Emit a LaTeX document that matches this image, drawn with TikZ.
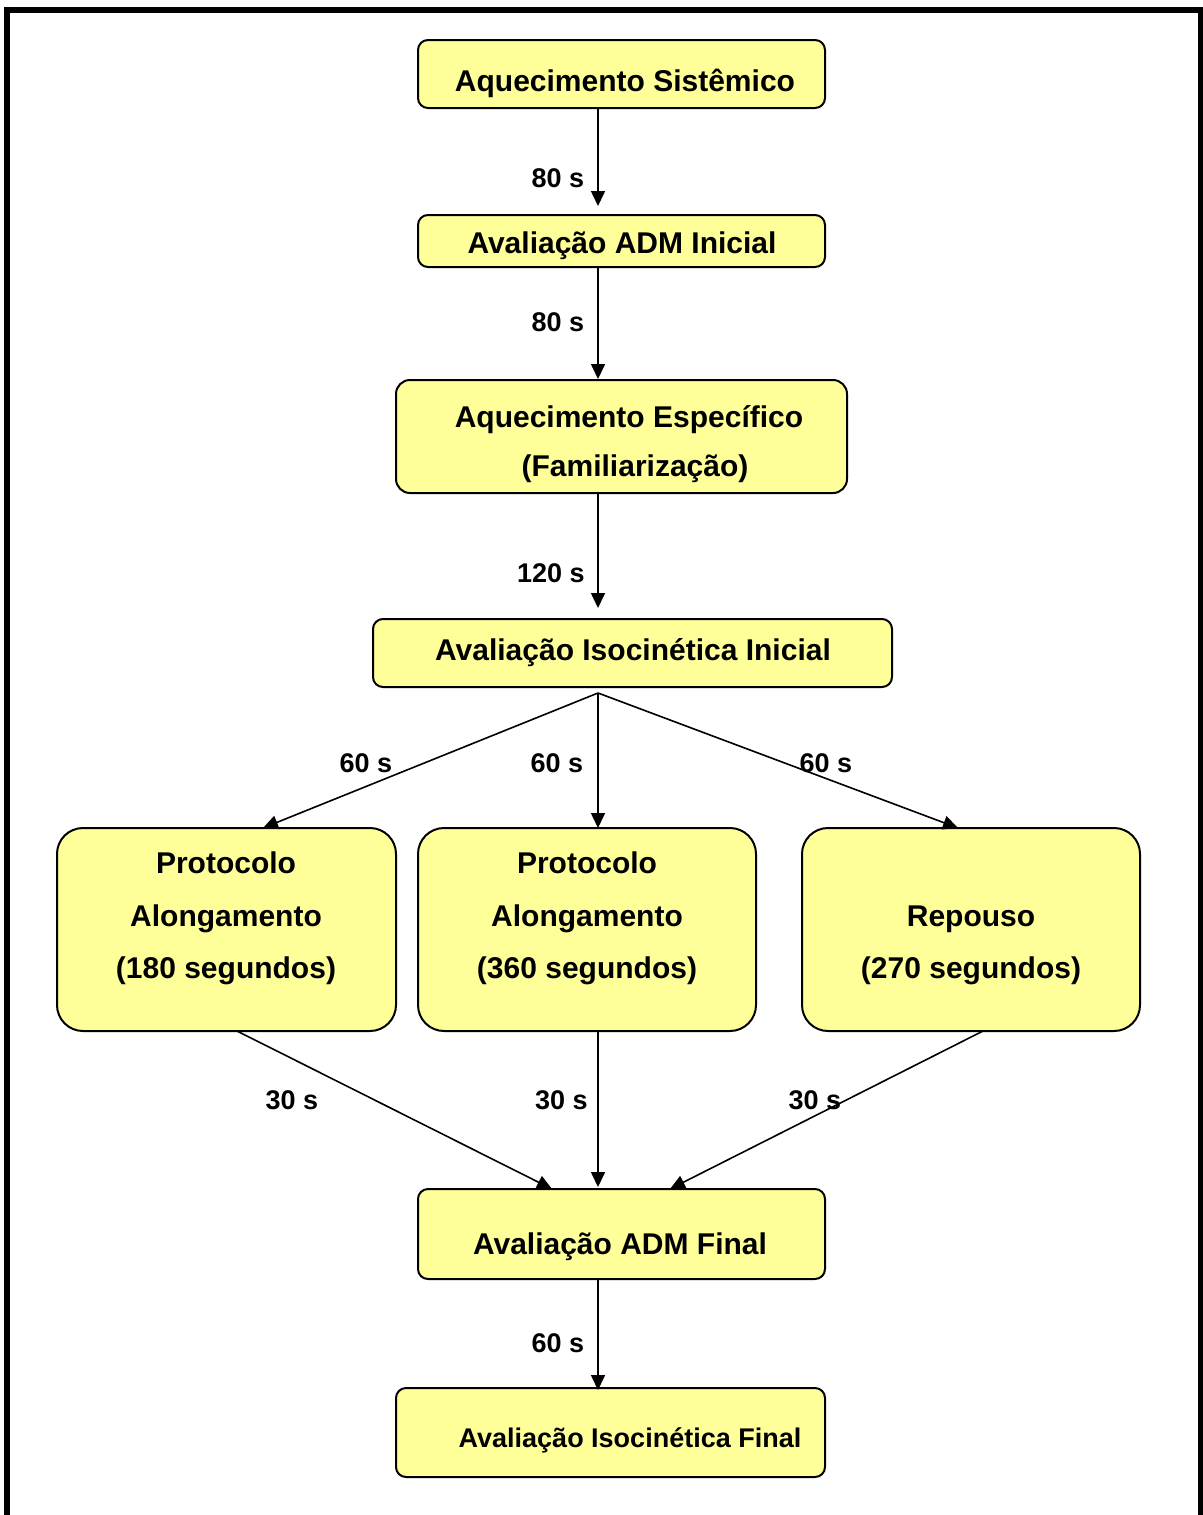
\documentclass[tikz,border=0pt]{standalone}
\usepackage{fontspec}
\setmainfont{Liberation Sans}
\usetikzlibrary{arrows.meta,positioning}
\definecolor{boxfill}{HTML}{FFFF99}
\tikzset{
  box/.style={draw=black, line width=1pt, fill=boxfill, rounded corners=5pt, inner sep=0pt, outer sep=0pt},
  bigbox/.style={box, rounded corners=13pt},
  txt/.style={anchor=base, inner sep=0pt, font=\fontsize{15pt}{18pt}\selectfont\bfseries},
  smalltxt/.style={anchor=base, inner sep=0pt, font=\fontsize{13.5pt}{16pt}\selectfont\bfseries},
  lbl/.style={anchor=base, inner sep=0pt, font=\fontsize{13.5pt}{16pt}\selectfont\bfseries},
  arr/.style={line width=0.8pt, -{Triangle[width=7pt,length=7.5pt]}}
}
\begin{document}
\begin{tikzpicture}[x=0.5pt,y=-0.5pt]
\useasboundingbox (0,0) rectangle (1203,1515);
% outer frame
\draw[line width=3pt, line join=miter] (7,1520) -- (7,10) -- (1200.5,10) -- (1200.5,1520);

% boxes
\node[box, minimum width=203.5pt, minimum height=34pt] (b1) at (621.5,74) {};
\node[box, minimum width=203.5pt, minimum height=26pt] (b2) at (621.5,241) {};
\node[box, rounded corners=7pt, minimum width=225.5pt, minimum height=56.5pt] (b3) at (621.5,436.5) {};
\node[box, minimum width=259.5pt, minimum height=34pt] (b4) at (632.5,653) {};
\node[bigbox, minimum width=169.5pt, minimum height=101.5pt] (b5) at (226.5,929.5) {};
\node[bigbox, minimum width=169pt, minimum height=101.5pt] (b6) at (587,929.5) {};
\node[bigbox, minimum width=169pt, minimum height=101.5pt] (b7) at (971,929.5) {};
\node[box, minimum width=203.5pt, minimum height=45pt] (b8) at (621.5,1234) {};
\node[box, minimum width=214.5pt, minimum height=44.5pt] (b9) at (610.5,1432.5) {};

% box texts
\node[txt] (t1) at (625,91) {Aquecimento Sistêmico};
\node[txt] (t2) at (622,253) {Avaliação ADM Inicial};
\node[txt] (t3a) at (629,427) {Aquecimento Específico};
\node[txt] (t3b) at (635,476) {(Familiarização)};
\node[txt] (t4) at (633,660) {Avaliação Isocinética Inicial};
\node[txt] (t5a) at (226,873) {Protocolo};
\node[txt] (t5b) at (226,926) {Alongamento};
\node[txt] (t5c) at (226,978) {(180 segundos)};
\node[txt] (t6a) at (587,873) {Protocolo};
\node[txt] (t6b) at (587,926) {Alongamento};
\node[txt] (t6c) at (587,978) {(360 segundos)};
\node[txt] (t7a) at (971,926) {Repouso};
\node[txt] (t7b) at (971,978) {(270 segundos)};
\node[txt] (t8) at (620,1254) {Avaliação ADM Final};
\node[smalltxt] (t9) at (630,1447) {Avaliação Isocinética Final};

% x positions for connectors
\coordinate (spine) at (598,0);
\coordinate (xL) at (263,0);
\coordinate (xR) at (958,0);
\coordinate (sL) at (237,0);
\coordinate (sR) at (983,0);
\coordinate (eL) at (552,0);
\coordinate (eR) at (670,0);
\coordinate (hub) at (598,693);

% connectors
\draw[arr, shorten >=4.5pt] (b1.south -| spine) -- (b2.north -| spine);
\draw[arr, shorten >=0.5pt] (b2.south -| spine) -- (b3.north -| spine);
\draw[arr, shorten >=5.5pt] (b3.south -| spine) -- (b4.north -| spine);
\draw[arr] (hub) -- (b5.north -| xL);
\draw[arr] (hub) -- (b6.north -| spine);
\draw[arr] (hub) -- (b7.north -| xR);
\draw[arr] (b5.south -| sL) -- (b8.north -| eL);
\draw[arr, shorten >=1pt] (b6.south -| spine) -- (b8.north -| spine);
\draw[arr] (b7.south -| sR) -- (b8.north -| eR);
\draw[arr, shorten >=-1pt] (b8.south -| spine) -- (b9.north -| spine);

% connector labels
\node[lbl] (l1) at (558,187) {80 s};
\node[lbl] (l2) at (558,331) {80 s};
\node[lbl] (l3) at (551,582) {120 s};
\node[lbl] (l4) at (366,772) {60 s};
\node[lbl] (l5) at (557,772) {60 s};
\node[lbl] (l6) at (826,772) {60 s};
\node[lbl] (l7) at (292,1109) {30 s};
\node[lbl] (l8) at (561.5,1109) {30 s};
\node[lbl] (l9) at (815,1109) {30 s};
\node[lbl] (l10) at (558,1352) {60 s};
\end{tikzpicture}
\end{document}
